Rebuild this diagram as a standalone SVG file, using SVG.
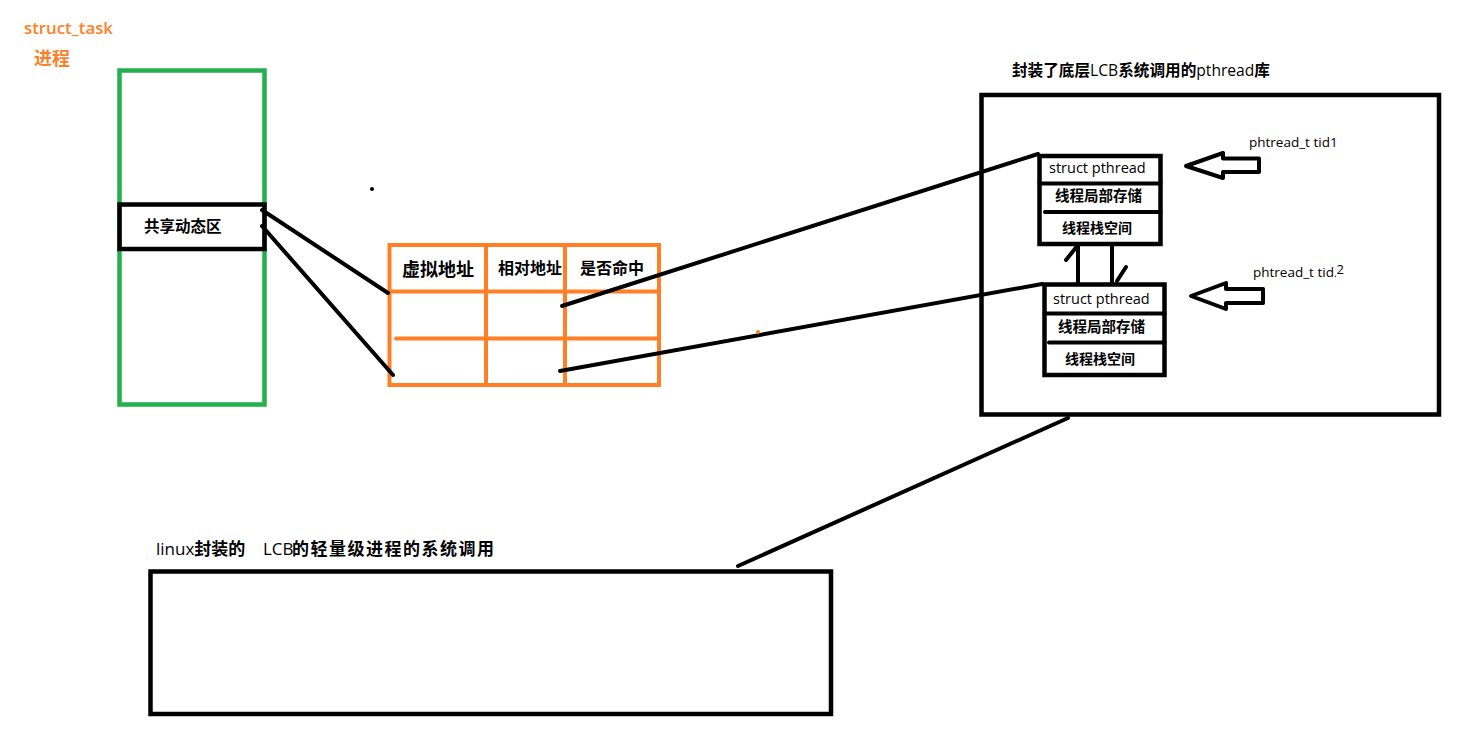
<svg xmlns="http://www.w3.org/2000/svg" width="1470" height="733" viewBox="0 0 1470 733">
<style>
text{font-family:"Open Sans","Noto Sans CJK SC",sans-serif;fill:#000}
.b{font-weight:bold}
.r{font-weight:normal}
.or{fill:#ff7f27}
.blk{fill:none;stroke:#000;stroke-width:4.5}
.ln{fill:none;stroke:#000;stroke-width:4;stroke-linecap:round;stroke-linejoin:round}
.orng{fill:none;stroke:#ff7f27;stroke-width:4;stroke-linecap:round}
</style>
<rect width="1470" height="733" fill="#fff"/>

<g id="process">
<text class="or" x="24" y="34" font-size="16.5" font-weight="600" textLength="89" lengthAdjust="spacingAndGlyphs">struct_task</text>
<text class="or b" x="34" y="65" font-size="18">进程</text>
<rect x="119.5" y="70.5" width="145" height="334" fill="none" stroke="#22b14c" stroke-width="4.5"/>
</g>

<g id="shared">
<rect class="blk" x="119.5" y="204.5" width="145" height="44.5"/>
<text class="b" x="144" y="232" font-size="15.5">共享动态区</text>
</g>

<g id="table">
<rect class="orng" x="389.5" y="245" width="269.5" height="140"/>
<line class="orng" x1="486" y1="245" x2="486" y2="385"/>
<line class="orng" x1="565" y1="245" x2="565" y2="385"/>
<line class="orng" x1="389.5" y1="291.5" x2="659" y2="291.5"/>
<line class="orng" x1="396" y1="338.5" x2="659" y2="338.5"/>
<text class="b" x="402" y="276" font-size="18">虚拟地址</text>
<text class="b" x="498" y="274" font-size="16">相对地址</text>
<text class="b" x="580" y="274" font-size="16">是否命中</text>
</g>

<g id="lib">
<text x="1012" y="76" font-size="16" textLength="258" lengthAdjust="spacingAndGlyphs"><tspan class="b">封装了底层</tspan><tspan class="r">LCB</tspan><tspan class="b">系统调用的</tspan><tspan class="r">pthread</tspan><tspan class="b">库</tspan></text>
<rect class="blk" x="981.5" y="95" width="457.5" height="319.5" stroke-width="5"/>
</g>

<g id="pthread1">
<rect class="blk" x="1039.5" y="156" width="121" height="88"/>
<line class="ln" x1="1039.5" y1="183.5" x2="1160.5" y2="183.5"/>
<line class="ln" x1="1045" y1="212" x2="1160.5" y2="212"/>
<text class="r" x="1049" y="173" font-size="14.5">struct pthread</text>
<text class="b" x="1055" y="201" font-size="14.5">线程局部存储</text>
<text class="b" x="1062" y="233" font-size="14">线程栈空间</text>
</g>

<g id="pthread2">
<rect class="blk" x="1044.5" y="284.5" width="120" height="90.5"/>
<line class="ln" x1="1044.5" y1="313.5" x2="1164.5" y2="313.5"/>
<line class="ln" x1="1049" y1="342.5" x2="1164.5" y2="342.5"/>
<text class="r" x="1053" y="304" font-size="14.5">struct pthread</text>
<text class="b" x="1058" y="332" font-size="14.5">线程局部存储</text>
<text class="b" x="1065" y="364" font-size="14">线程栈空间</text>
</g>

<g id="tid1">
<text class="r" x="1249" y="147" font-size="13.5">phtread_t tid1</text>
<polygon class="ln" points="1186,166 1223,153 1223,158.5 1259,158.5 1259,172 1223,172 1223,178"/>
</g>

<g id="tid2">
<text class="r" x="1253" y="277" font-size="13.5">phtread_t tid<tspan font-size="10">.</tspan><tspan dy="-3" font-size="13">2</tspan></text>
<polygon class="ln" points="1191,296 1226,283 1226,289 1263,289 1263,303 1226,303 1226,309"/>
</g>

<g id="lwp">
<text x="156" y="555" font-size="17"><tspan class="r">linux</tspan><tspan class="b">封装的</tspan><tspan class="r" x="263">LCB</tspan><tspan class="b" x="292" letter-spacing="1.5">的轻量级进程的系统调用</tspan></text>
<rect class="blk" x="150.5" y="571.5" width="680.5" height="142.5" stroke-width="5"/>
</g>

<g id="connectors">
<line class="ln" x1="262" y1="210" x2="388" y2="293"/>
<line class="ln" x1="262" y1="226" x2="393" y2="375"/>
<line class="ln" x1="562" y1="306" x2="1038" y2="154"/>
<line class="ln" x1="560" y1="371" x2="1042" y2="284"/>
<line class="ln" x1="1068" y1="418" x2="738" y2="566"/>
<line class="ln" x1="1078" y1="284" x2="1078" y2="245"/>
<line class="ln" x1="1066" y1="260" x2="1078" y2="245"/>
<line class="ln" x1="1112" y1="245" x2="1112" y2="283"/>
<line class="ln" x1="1117" y1="281" x2="1126" y2="267"/>
</g>

<circle cx="372" cy="189" r="2" fill="#000"/>
<circle cx="758" cy="332" r="2" fill="#ff7f27"/>
</svg>
